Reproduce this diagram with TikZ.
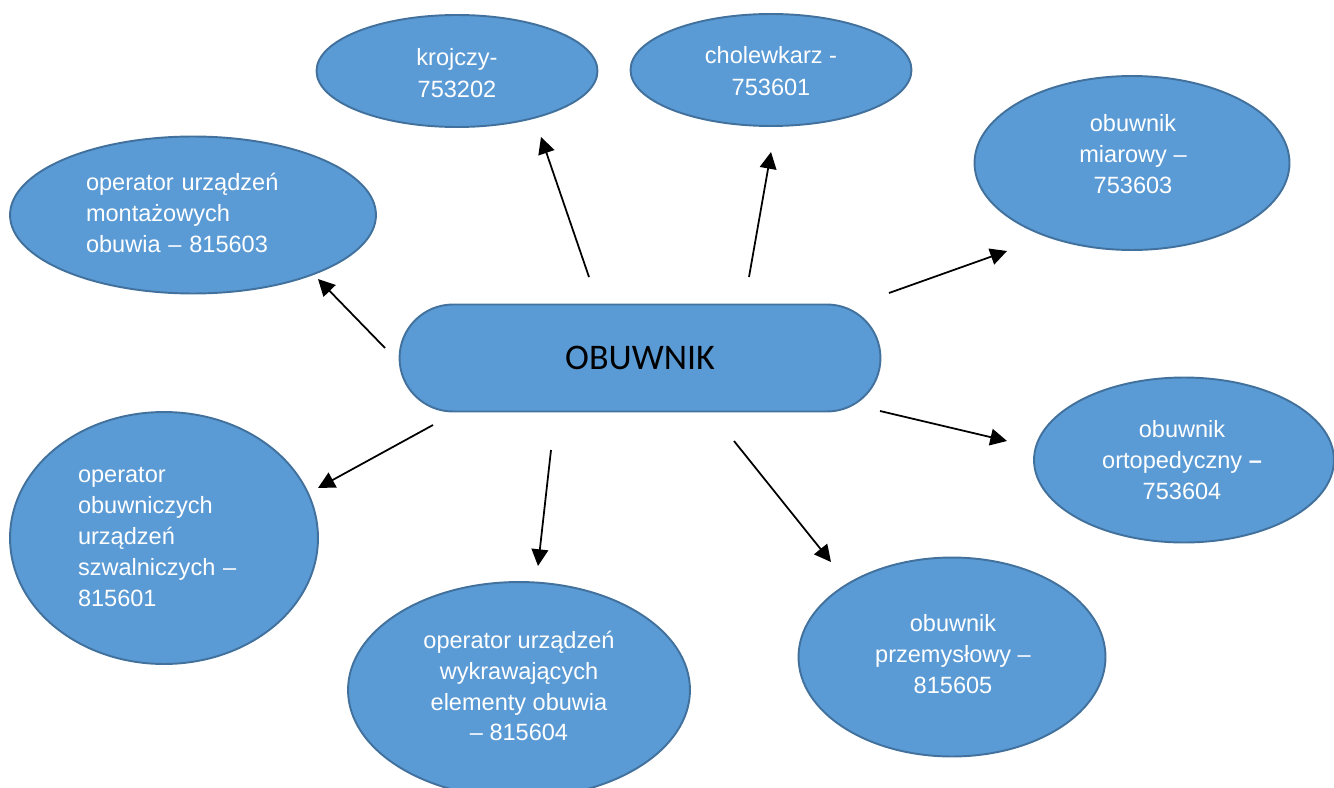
\documentclass[tikz,border=0pt]{standalone}
\usepackage{fontspec}
\setmainfont{Liberation Sans}
\newfontfamily\calfont{Carlito}
\usetikzlibrary{arrows.meta,shapes.geometric}
\definecolor{bfill}{HTML}{5B9BD5}
\definecolor{bdraw}{HTML}{41719C}
\tikzset{
  oval/.style={ellipse, draw=bdraw, fill=bfill, line width=1.1pt, inner sep=0pt},
  txt/.style={text=white, font=\fontsize{13.4}{17.6}\selectfont, inner sep=0pt},
  txts/.style={text=white, font=\fontsize{13.4}{18.2}\selectfont, inner sep=0pt},
  arr/.style={-{Triangle[length=9.5pt,width=9.5pt]}, line width=1pt, black}
}
\begin{document}
\begin{tikzpicture}[x=0.02cm, y=-0.02cm]
\useasboundingbox (0,0) rectangle (1334,787);
\clip (0,0) rectangle (1334,787);
% center
\node[draw=bdraw, fill=bfill, line width=1.1pt, rounded corners=1.07cm,
      minimum width=9.62cm, minimum height=2.14cm, inner sep=0pt,
      font=\calfont\fontsize{20.5}{24}\selectfont] (c) at (640,358) {OBUWNIK};
% ellipses
\node[oval, minimum width=5.62cm, minimum height=2.24cm] (kro) at (457,71) {};
\node[oval, minimum width=5.62cm, minimum height=2.24cm] (chol) at (771,70) {};
\node[oval, minimum width=6.30cm, minimum height=3.48cm] (miar) at (1132,163) {};
\node[oval, minimum width=7.32cm, minimum height=3.14cm] (mont) at (193,215) {};
\node[oval, minimum width=6.00cm, minimum height=3.30cm] (orto) at (1184,460) {};
\node[oval, minimum width=6.16cm, minimum height=5.04cm] (obuw) at (164,538) {};
\node[oval, minimum width=6.84cm, minimum height=4.32cm] (wykr) at (519,690) {};
\node[oval, minimum width=6.14cm, minimum height=3.98cm] (przem) at (952,657) {};
% texts
\node[txts, align=center] (kro-t) at (457,73) {krojczy-\\753202};
\node[txts, align=center] (chol-t) at (771,71) {cholewkarz -\\753601};
\node[txt, align=center] (miar-t) at (1133,154) {obuwnik\\miarowy –\\753603};
\node[txt, align=left, text width=4.28cm] (mont-t) at (193,213) {operator urządzeń\\montażowych\\obuwia – 815603};
\node[txt, align=center] (orto-t) at (1182,460) {obuwnik\\ortopedyczny \textbf{–}\\753604};
\node[txt, align=left, text width=3.44cm] (obuw-t) at (164,537) {operator\\obuwniczych\\urządzeń\\szwalniczych –\\815601};
\node[txt, align=center] (wykr-t) at (519,686) {operator urządzeń\\wykrawających\\elementy obuwia\\– 815604};
\node[txt, align=center] (przem-t) at (953,654) {obuwnik\\przemysłowy –\\815605};
% arrow ends
\coordinate (s1) at (589,277); \coordinate (e1) at (541,137);
\coordinate (s2) at (749,277); \coordinate (e2) at (771,152);
\coordinate (s3) at (889,293); \coordinate (e3) at (1007,251);
\coordinate (s4) at (385,348); \coordinate (e4) at (318,279);
\coordinate (s5) at (880,411); \coordinate (e5) at (1007,441);
\coordinate (s6) at (433,425); \coordinate (e6) at (318,488);
\coordinate (s7) at (551,450); \coordinate (e7) at (538,566);
\coordinate (s8) at (734,441); \coordinate (e8) at (831,562);
\foreach \i in {1,...,8} { \draw[arr] (s\i) -- (e\i); }
\end{tikzpicture}
\end{document}
